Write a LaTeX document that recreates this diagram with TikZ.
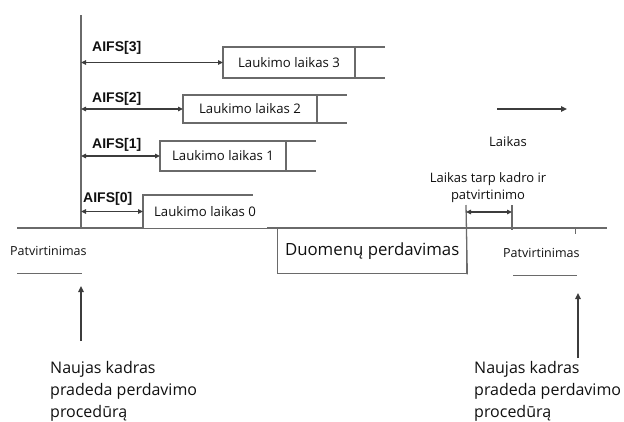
\documentclass[tikz,border=0pt]{standalone}
\usepackage{fontspec}
\setmainfont{Open Sans}
\newfontfamily\aifsfont{Liberation Sans}
\usetikzlibrary{arrows.meta}
\definecolor{linegray}{HTML}{6A6A6A}
\definecolor{arrowgray}{HTML}{3C3C3C}
\definecolor{ink}{HTML}{101010}
\begin{document}
\begin{tikzpicture}[x=1pt,y=-1pt,
  rule/.style={draw=linegray, line width=1.3pt},
  axisline/.style={draw=linegray, line width=1.8pt},
  uptip/.style={draw=arrowgray, line width=1.4pt, -{Triangle[length=6pt,width=5.5pt]}},
  twotip/.style={draw=arrowgray, line width=1.3pt, {Triangle[length=5pt,width=4.5pt]}-{Triangle[length=5pt,width=4.5pt]}},
  waitbox/.style={rule, fill=white, anchor=north west, inner sep=0pt, outer sep=0pt,
    text=ink, font=\fontsize{13.2}{15}\selectfont},
  aifs/.style={anchor=base west, inner sep=0pt, text=ink, font=\aifsfont\bfseries\fontsize{14}{16}\selectfont},
  plain/.style={inner sep=0pt, text=ink, font=\fontsize{13}{17}\selectfont},
  bigtext/.style={inner sep=0pt, text=ink, align=left, font=\fontsize{16}{22}\selectfont}
]
\useasboundingbox (0,0) rectangle (624,421);

% time line and station axis
\coordinate (vtop) at (81,15);
\coordinate (vbot) at (81,228);
\coordinate (bl) at (17,228);
\coordinate (br) at (607,228);
\draw[rule] (bl) -- (br);
\draw[axisline] (vtop) -- (vbot);

% waiting windows, one per access category
\node[waitbox, minimum width=132pt, minimum height=31pt] (w3) at (223,47) {Laukimo laikas 3};
\draw[rule] (w3.north east) -- ++(30,0);
\draw[rule] (w3.south east) -- ++(30,0);

\node[waitbox, minimum width=134pt, minimum height=28pt] (w2) at (183,95) {Laukimo laikas 2};
\draw[rule] (w2.north east) -- ++(30,0);
\draw[rule] (w2.south east) -- ++(30,0);

\node[waitbox, minimum width=126pt, minimum height=30pt] (w1) at (160,141) {Laukimo laikas 1};
\draw[rule] (w1.north east) -- ++(30,0);
\draw[rule] (w1.south east) -- ++(30,0);

\node[waitbox, draw=none, minimum width=124pt, minimum height=33pt] (w0) at (143,195) {Laukimo laikas 0};
\draw[rule] (w0.south west) -- (w0.north west) -- ++(110,0);

% AIFS intervals
\coordinate (a3) at (81,62.5);
\coordinate (a2) at (81,109);
\coordinate (a1) at (81,156);
\coordinate (a0) at (81,211.5);
\draw[twotip] (a3) -- (a3 -| w3.west);
\draw[twotip] (a2) -- (a2 -| w2.west);
\draw[twotip] (a1) -- (a1 -| w1.west);
\draw[twotip] (a0) -- (a0 -| w0.west);
\node[aifs] (l3) at (92,51) {AIFS[3]};
\node[aifs] (l2) at (92,102) {AIFS[2]};
\node[aifs] (l1) at (92,148) {AIFS[1]};
\node[aifs] (l0) at (83,202) {AIFS[0]};

% data frame
\node[rule, anchor=north west, minimum width=189pt, minimum height=45pt, inner sep=0pt,
  text=ink, font=\fontsize{16.8}{20}\selectfont] (data) at (277,228) {Duomenų perdavimas};

% gap between frame and acknowledgement
\coordinate (gl) at (466,205);
\coordinate (gr) at (512,205);
\coordinate (grb) at (512,230);
\draw[rule] (data.south east) -- (gl);
\draw[rule] (gr) -- (grb);
\coordinate (gla) at (466,212);
\coordinate (gra) at (512,212);
\draw[twotip] (gla) -- (gra);
\node[plain, align=center] (gap) at (488,188) {Laikas tarp kadro ir\\patvirtinimo};

% time direction
\coordinate (t0) at (497,109);
\coordinate (t1) at (567,109);
\draw[uptip] (t0) -- (t1);
\node[plain] (tl) at (508,142) {Laikas};

\coordinate (tk0) at (575,228);
\coordinate (tk1) at (575,234);
\draw[rule, line width=0.8pt] (tk0) -- (tk1);

% acknowledgements
\node[plain, anchor=west, font=\fontsize{12.5}{14}\selectfont] (ackl) at (10,251) {Patvirtinimas};
\coordinate (al0) at (17,273);
\coordinate (al1) at (82,273);
\draw[rule, line width=1pt] (al0) -- (al1);
\node[plain, anchor=west, font=\fontsize{12.5}{14}\selectfont] (ackr) at (503,253) {Patvirtinimas};
\coordinate (ar0) at (513,275);
\coordinate (ar1) at (577,275);
\draw[rule, line width=1pt] (ar0) -- (ar1);

% new frames start the procedure
\coordinate (ul0) at (81,341);
\coordinate (ul1) at (81,286);
\draw[uptip] (ul0) -- (ul1);
\coordinate (ur0) at (578,358);
\coordinate (ur1) at (578,293);
\draw[uptip] (ur0) -- (ur1);
\node[bigtext, anchor=north west] (nl) at (50,361) {Naujas kadras\\pradeda perdavimo\\procedūrą};
\node[bigtext, anchor=north west] (nr) at (474,361) {Naujas kadras\\pradeda perdavimo\\procedūrą};
\end{tikzpicture}
\end{document}
